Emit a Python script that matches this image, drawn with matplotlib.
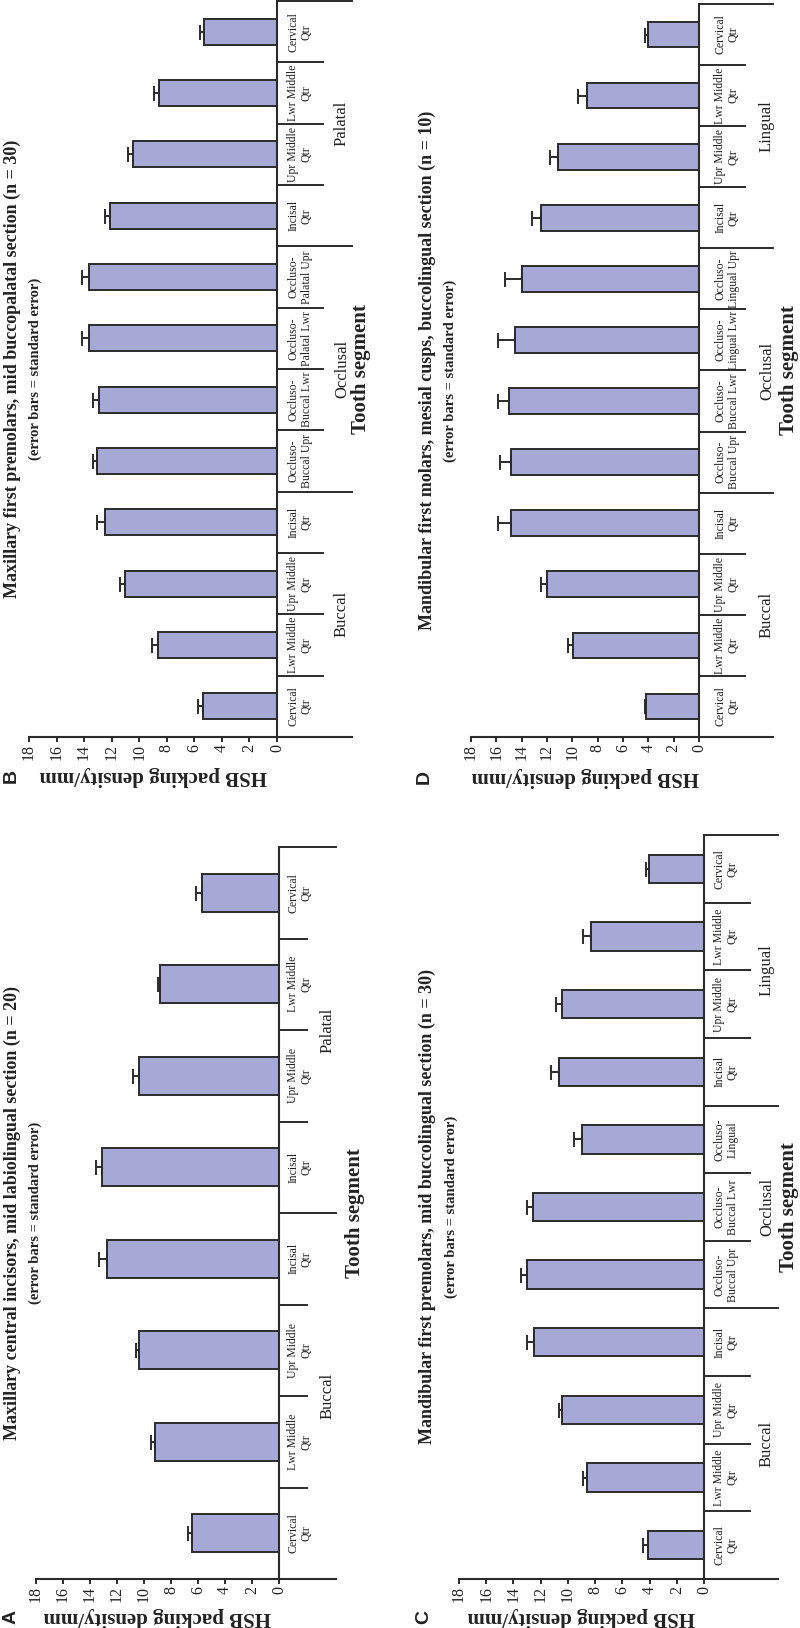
import matplotlib
matplotlib.use("Agg")
import matplotlib.pyplot as plt

# --- data (bars from axis outwards) ---
a_labels = ["Cervical\nQtr", "Lwr Middle\nQtr", "Upr Middle\nQtr", "Incisal\nQtr",
            "Incisal\nQtr", "Upr Middle\nQtr", "Lwr Middle\nQtr", "Cervical\nQtr"]
a_mean = [6.43, 9.21, 10.34, 12.71, 13.13, 10.34, 8.79, 5.71]
a_se = [0.29, 0.30, 0.25, 0.59, 0.44, 0.45, 0.15, 0.45]
a_groups = ["Buccal", "Palatal"]
a_group_sizes = [4, 4]

b_labels = ["Cervical\nQtr", "Lwr Middle\nQtr", "Upr Middle\nQtr", "Incisal\nQtr",
            "Occluso-\nBuccal Upr", "Occluso-\nBuccal Lwr", "Occluso-\nPalatal Lwr", "Occluso-\nPalatal Upr",
            "Incisal\nQtr", "Upr Middle\nQtr", "Lwr Middle\nQtr", "Cervical\nQtr"]
b_mean = [5.38, 8.67, 11.00, 12.52, 13.08, 12.91, 13.61, 13.61, 12.09, 10.47, 8.53, 5.33]
b_se = [0.36, 0.39, 0.43, 0.56, 0.27, 0.41, 0.56, 0.56, 0.43, 0.36, 0.38, 0.29]
b_groups = ["Buccal", "Occlusal", "Palatal"]
b_group_sizes = [4, 4, 4]

c_labels = ["Cervical\nQtr", "Lwr Middle\nQtr", "Upr Middle\nQtr", "Incisal\nQtr",
            "Occluso-\nBuccal Upr", "Occluso-\nBuccal Lwr", "Occluso-\nLingual",
            "Incisal\nQtr", "Upr Middle\nQtr", "Lwr Middle\nQtr", "Cervical\nQtr"]
c_mean = [4.14, 8.58, 10.40, 12.48, 13.02, 12.60, 9.00, 10.67, 10.40, 8.31, 4.02]
c_se = [0.32, 0.30, 0.27, 0.54, 0.44, 0.37, 0.56, 0.54, 0.44, 0.57, 0.27]
c_groups = ["Buccal", "Occlusal", "Lingual"]
c_group_sizes = [4, 3, 4]

d_labels = ["Cervical\nQtr", "Lwr Middle\nQtr", "Upr Middle\nQtr", "Incisal\nQtr",
            "Occluso-\nBuccal Upr", "Occluso-\nBuccal Lwr", "Occluso-\nLingual Lwr", "Occluso-\nLingual Upr",
            "Incisal\nQtr", "Upr Middle\nQtr", "Lwr Middle\nQtr", "Cervical\nQtr"]
d_mean = [4.15, 9.93, 12.03, 14.84, 14.84, 14.98, 14.56, 13.95, 12.45, 11.14, 8.88, 3.99]
d_se = [0.13, 0.45, 0.48, 1.06, 0.87, 0.92, 1.34, 1.34, 0.77, 0.60, 0.66, 0.27]
d_groups = ["Buccal", "Occlusal", "Lingual"]
d_group_sizes = [4, 4, 4]

titles = ["Maxillary central incisors, mid labiolingual section (n = 20)",
          "Maxillary first premolars, mid buccopalatal section (n = 30)",
          "Mandibular first premolars, mid buccolingual section (n = 30)",
          "Mandibular first molars, mesial cusps, buccolingual section (n = 10)"]
letters = ["A", "B", "C", "D"]
subtitle = "(error bars = standard error)"
ylabel = "HSB packing density/mm"
xlabel = "Tooth segment"
yticks = list(range(0, 19, 2))

BAR = "#A6A8D6"
INK = "#2b2b2b"

W, H = 800, 1628
plt.rcParams['font.family'] = ['Liberation Serif', 'DejaVu Serif']

# pixel layout of each (rotated) panel:
# x0 = value 0, x18 = value 18, ybase = value axis, ytop = end of category axis
layout = {
    "A": dict(x0=279, x18=36, ybase=1579, ytop=847, xs=307, xl=336,
              xcat=300, xgrp=328, xseg=355, xtit=12, xsub=35, ylab=1617, xlet=11),
    "B": dict(x0=277, x18=29, ybase=737, ytop=1, xs=323, xl=352,
              xcat=300, xgrp=342, xseg=361, xtit=12, xsub=35, ylab=776, xlet=11),
    "C": dict(x0=704, x18=459, ybase=1579, ytop=835, xs=750, xl=778,
              xcat=726, xgrp=767, xseg=789, xtit=427, xsub=451, ylab=1617, xlet=424),
    "D": dict(x0=699, x18=471, ybase=737, ytop=4, xs=745, xl=773,
              xcat=727, xgrp=767, xseg=789, xtit=427, xsub=450, ylab=777, xlet=424),
}

fig = plt.figure(figsize=(W / 100, H / 100), dpi=100)

panels = [
    (a_labels, a_mean, a_se, a_groups, a_group_sizes),
    (b_labels, b_mean, b_se, b_groups, b_group_sizes),
    (c_labels, c_mean, c_se, c_groups, c_group_sizes),
    (d_labels, d_mean, d_se, d_groups, d_group_sizes),
]

for k, (labels, mean, se, groups, sizes) in enumerate(panels):
    L = layout[letters[k]]
    n = len(labels)
    scale = (L["x0"] - L["x18"]) / 18.0          # px per unit
    step = (L["ybase"] - L["ytop"]) / n          # px per category
    xmin_d = -(L["xl"] - L["x0"]) / scale

    ax = fig.add_axes([L["x18"] / W, 1 - L["ybase"] / H,
                       (L["xl"] - L["x18"]) / W, (L["ybase"] - L["ytop"]) / H])
    ax.set_xlim(18, xmin_d)
    ax.set_ylim(-0.5, n - 0.5)

    def xd(px):
        return (L["x0"] - px) / scale

    def yd(py):
        return -0.5 + (L["ybase"] - py) / step

    idx = list(range(n))
    ax.barh(idx, mean, height=0.42, color=BAR, edgecolor=INK, linewidth=1.4,
            xerr=[[0] * n, se],
            error_kw=dict(ecolor=INK, elinewidth=1.4, capsize=5.4, capthick=1.4),
            zorder=3)

    for s in ["top", "left", "right"]:
        ax.spines[s].set_visible(False)
    ax.spines["bottom"].set_linewidth(1.5)
    ax.spines["bottom"].set_color(INK)
    ax.set_yticks([])
    ax.set_xticks(yticks)
    ax.tick_params(axis="x", direction="out", length=3.5, width=1.4, color=INK,
                   pad=1.5, labelsize=11.5, labelrotation=90, labelcolor="#222222")

    # category axis and separators
    ax.plot([0, 0], [-0.5, n - 0.5], color=INK, lw=1.5, clip_on=False, zorder=4)
    bounds = [0]
    for sz in sizes:
        bounds.append(bounds[-1] + sz)
    for b in range(1, n + 1):
        yb = b - 0.5
        xe = xmin_d if b in bounds else xd(L["xs"])
        ax.plot([0, xe], [yb, yb], color=INK, lw=1.4, clip_on=False)

    for i, lab in enumerate(labels):
        ax.text(xd(L["xcat"]), i, lab, rotation=90, ha="center", va="center",
                fontsize=8.5, linespacing=1.15, color="#222222")

    for g, name in enumerate(groups):
        c = (bounds[g] + bounds[g + 1] - 1) / 2
        ax.text(xd(L["xgrp"]), c, name, rotation=90, ha="center", va="center",
                fontsize=12, color="#222222")

    mid = (n - 1) / 2
    ax.text(xd(L["xseg"]), mid, xlabel, rotation=90, ha="center", va="center",
            fontsize=15, fontweight="bold", color="#222222")
    ax.text(xd(L["xtit"]), mid, titles[k], rotation=90, ha="center", va="center",
            fontsize=13, fontweight="bold", color="#222222")
    ax.text(xd(L["xsub"]), mid, subtitle, rotation=90, ha="center", va="center",
            fontsize=10.5, fontweight="bold", color="#222222")
    ax.text(9, yd(L["ylab"]), ylabel, rotation=180, ha="center", va="center",
            fontsize=15, fontweight="bold", color="#222222")
    ax.text(xd(L["xlet"]), yd(L["ylab"]), letters[k], rotation=90, ha="center",
            va="center", fontsize=14, fontweight="bold", color="#222222",
            family=["Liberation Sans", "DejaVu Sans"])

fig.savefig("out.png", dpi=100, facecolor="white")
